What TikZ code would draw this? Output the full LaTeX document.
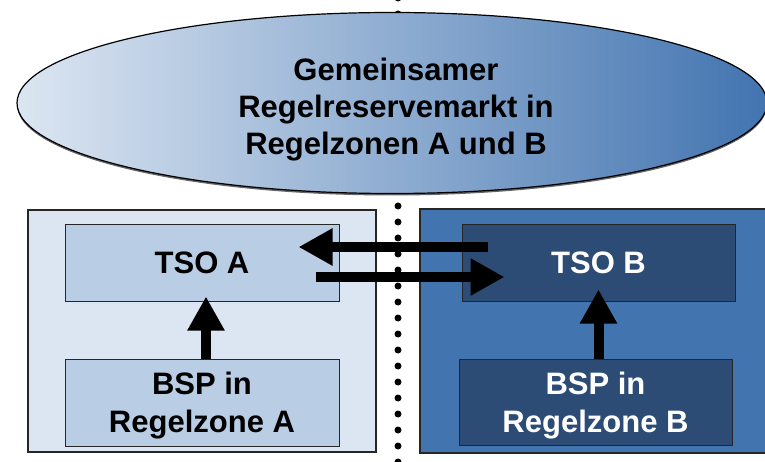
\documentclass[tikz,border=0pt]{standalone}
\usepackage{fontspec}
\setmainfont{Liberation Sans}
\usetikzlibrary{arrows.meta,calc}
\definecolor{lightA}{HTML}{DCE6F2}
\definecolor{midA}{HTML}{B9CDE5}
\definecolor{zoneB}{HTML}{4274B0}
\definecolor{darkB}{HTML}{2C4C75}
\definecolor{ellmid}{HTML}{B2C5DE}
\begin{document}
\begin{tikzpicture}[x=1pt,y=-1pt,
  zone/.style={draw=black!85, line width=1.3pt, inner sep=0pt},
  box/.style={draw=black!85, line width=1pt, inner sep=0pt, align=center,
    text depth=0pt, font=\bfseries\fontsize{31}{38}\selectfont},
  bigarrow/.style={line width=10pt, -{Triangle[width=35pt,length=34pt]}},
  dotline/.style={line width=7pt, line cap=round, dash pattern=on 0pt off 16pt}]
\useasboundingbox (0,0) rectangle (765,462);
\clip (0,0) rectangle (765,462);
% dotted separator
\coordinate (dtop) at (398,-2);
\coordinate (dbot) at (398,470);
\draw[dotline] (dtop) -- (dbot);
% ellipse with shadow
\fill[black!60] (392,105) ellipse [x radius=375pt, y radius=90.5pt];
\shade[left color=lightA, middle color=ellmid, right color=zoneB, draw=black, line width=1.2pt]
  (392,103) ellipse [x radius=375pt, y radius=90.5pt];
\node[align=center, inner sep=0pt, text depth=0pt, font=\bfseries\fontsize{31}{37}\selectfont]
  (market) at (396,106) {Gemeinsamer\\Regelreservemarkt in\\Regelzonen A und B};
% zones
\node[zone, fill=lightA, minimum width=348pt, minimum height=242pt] (zoneA) at (202,331) {};
\node[zone, fill=zoneB, minimum width=346pt, minimum height=244pt] (zoneB) at (593,331) {};
% boxes
\node[box, fill=midA, minimum width=274pt, minimum height=76pt] (tsoA) at (202,263) {TSO A};
\node[box, fill=midA, minimum width=274pt, minimum height=87pt] (bspA) at (202,402.5) {BSP in\\Regelzone A};
\node[box, fill=darkB, text=white, minimum width=273pt, minimum height=76pt] (tsoB) at (598.5,263) {TSO B};
\node[box, fill=darkB, text=white, minimum width=273pt, minimum height=86pt] (bspB) at (595.5,402) {BSP in\\Regelzone B};
% arrows
\draw[bigarrow] ([xshift=4pt]bspA.north) -- ([xshift=4pt,yshift=5pt]tsoA.south);
\draw[bigarrow] ([xshift=3pt]bspB.north) -- ([yshift=12pt]tsoB.south);
\draw[bigarrow] ([xshift=26pt,yshift=16pt]tsoB.west) -- ([xshift=-41pt,yshift=16pt]tsoA.east);
\draw[bigarrow] ([xshift=-24pt,yshift=-14pt]tsoA.east) -- ([xshift=43pt,yshift=-14pt]tsoB.west);
\end{tikzpicture}
\end{document}
